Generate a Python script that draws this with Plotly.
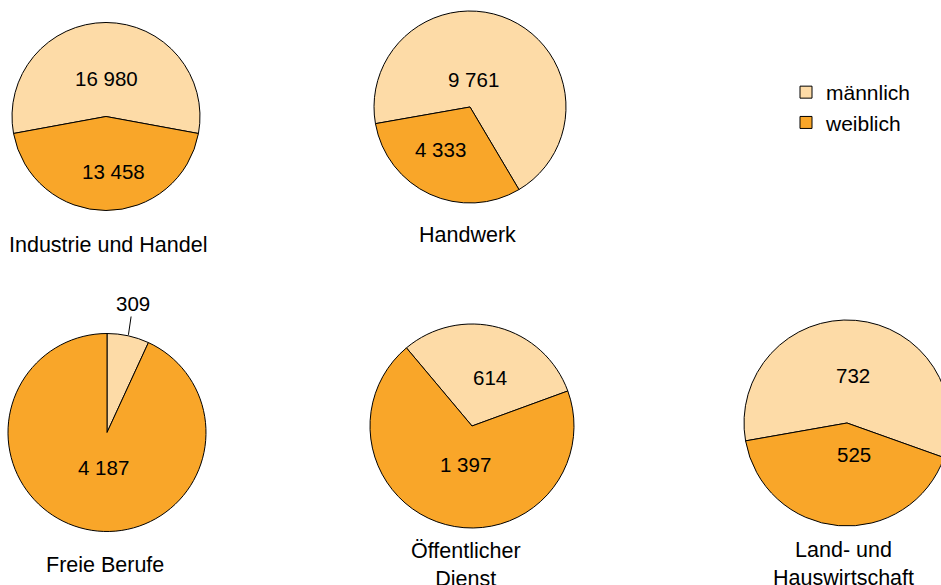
import math
import plotly.graph_objects as go

# ---- data ----
categories = ["Industrie und Handel", "Handwerk", "Freie Berufe",
              "Öffentlicher<br>Dienst", "Land- und<br>Hauswirtschaft"]
series = ["männlich", "weiblich"]
maennlich = [16980, 9761, 309, 614, 732]
weiblich = [13458, 4333, 4187, 1397, 525]

# ---- layout (pixels) ----
W, H = 960, 585          # paper a bit wider than the 941 px window: last pie is cut at the right
centers = [(106, 116.5), (470, 107), (107, 432.5), (472, 426), (847, 423)]
radii = [94, 96, 99, 102, 103]
rotations = [-100.4, -100, 0, -40, -100]
label_pos = [(108, 245), (467, 235), (105, 565), (466, 565), (843, 564)]
# value-label offsets from the pie centre (dx, dy) for männlich / weiblich
m_off = [(0, -38), (3.5, -27.5), None, (17.5, -48.5), (6, -47.5)]
w_off = [(7.5, 54.5), (-29.5, 42.5), (-3.5, 35), (-7, 38), (6.5, 31.5)]
colors = ["#FDDBA7", "#F9A629"]
FONT = "Arial, Liberation Sans, sans-serif"


def fmt(v):
    return f"{v:,}".replace(",", " ")


fig = go.Figure()
for i, cat in enumerate(categories):
    cx, cy = centers[i]
    r = radii[i]
    x0, x1 = max(0, (cx - r) / W), min(1, (cx + r) / W)
    y0, y1 = max(0, 1 - (cy + r) / H), min(1, 1 - (cy - r) / H)
    fig.add_trace(go.Pie(
        labels=series,
        values=[maennlich[i], weiblich[i]],
        sort=False,
        direction="clockwise",
        rotation=rotations[i],
        domain=dict(x=[x0, x1], y=[y0, y1]),
        marker=dict(colors=colors, line=dict(color="#000000", width=1)),
        textinfo="none",
        hoverinfo="label+value",
        showlegend=(i == 0),
        name=cat,
    ))

annotations = []
for i, cat in enumerate(categories):
    lx, ly = label_pos[i]
    annotations.append(dict(
        text=cat, x=lx / W, y=1 - ly / H, xref="paper", yref="paper",
        showarrow=False, xanchor="center", yanchor="middle",
        font=dict(family=FONT, size=21.5, color="#000000"),
    ))
    cx, cy = centers[i]
    for vals, offs in ((maennlich, m_off), (weiblich, w_off)):
        if offs[i] is None:
            continue
        dx, dy = offs[i]
        annotations.append(dict(
            text=fmt(vals[i]), x=(cx + dx) / W, y=1 - (cy + dy) / H,
            xref="paper", yref="paper", showarrow=False,
            xanchor="center", yanchor="middle",
            font=dict(family=FONT, size=20.5, color="#000000"),
        ))

# outside label for the small slice of "Freie Berufe"
i = 2
frac = maennlich[i] / (maennlich[i] + weiblich[i])
ang = math.radians(rotations[i] + frac * 360 / 2)
cx, cy = centers[i]
tipx = cx + (radii[i] + 1) * math.sin(ang)
tipy = cy - (radii[i] + 1) * math.cos(ang)
annotations.append(dict(
    text=fmt(maennlich[i]),
    x=tipx / W, y=1 - tipy / H, xref="paper", yref="paper",
    showarrow=True, arrowhead=0, arrowwidth=1, arrowcolor="#000000",
    ax=133 - tipx, ay=303.5 - tipy,
    font=dict(family=FONT, size=20.5, color="#000000"),
))

fig.update_layout(
    width=W, height=H,
    margin=dict(l=0, r=0, t=0, b=0),
    paper_bgcolor="#FFFFFF",
    font=dict(family=FONT, size=21, color="#000000"),
    annotations=annotations,
    legend=dict(x=786 / W, y=1 - 72 / H, xanchor="left", yanchor="top",
                font=dict(family=FONT, size=21, color="#000000"),
                bgcolor="rgba(0,0,0,0)", borderwidth=0),
)

fig.write_html(
    "out.html",
    config={"displayModeBar": False},
    post_script="document.body.style.margin='0';"
                "document.body.style.overflow='hidden';"
                "document.documentElement.style.overflow='hidden';",
)
